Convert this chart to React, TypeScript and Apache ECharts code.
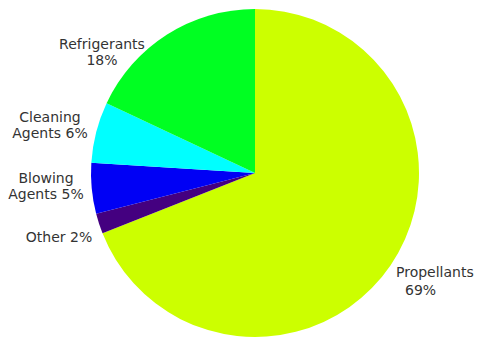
import React, { useEffect, useRef } from "react";
import * as echarts from "echarts";

const categories = ["Propellants", "Other", "Blowing\nAgents", "Cleaning\nAgents", "Refrigerants\n"];
const names = ["Propellants", "Other", "Blowing Agents", "Cleaning Agents", "Refrigerants"];
const values = [69, 2, 5, 6, 18];
const colors = ["#CCFF00", "#440080", "#0000F5", "#00FFFF", "#00FF22"];
const labelPos: { x: number; y: number; align: string }[] = [
  { x: 396, y: 281, align: "left" },
  { x: 59, y: 237, align: "center" },
  { x: 46, y: 186, align: "center" },
  { x: 50, y: 125, align: "center" },
  { x: 102, y: 52, align: "center" },
];

export default function App() {
  const ref = useRef<HTMLDivElement>(null);
  useEffect(() => {
    document.body.style.margin = "0";
    const chart = echarts.init(ref.current!, null, { renderer: "svg" });
    chart.setOption({
      animation: false,
      backgroundColor: "#ffffff",
      series: [
        {
          type: "pie",
          center: [255, 173],
          radius: 164,
          startAngle: 90,
          clockwise: true,
          avoidLabelOverlap: false,
          data: names.map((n, i) => ({
            name: n,
            value: values[i],
            itemStyle: { color: colors[i] },
            label:
              i === 0
                ? {
                    formatter: "{a|Propellants}\n{b|69%}",
                    rich: {
                      a: { fontFamily: "DejaVu Sans", fontSize: 14, color: "#333", lineHeight: 18 },
                      b: { fontFamily: "DejaVu Sans", fontSize: 14, color: "#333", lineHeight: 18, padding: [0, 0, 0, 9] },
                    },
                  }
                : undefined,
          })),
          label: {
            show: true,
            position: "outside",
            fontFamily: "DejaVu Sans",
            fontSize: 14,
            color: "#333",
            lineHeight: 16,
            formatter: (p: any) => {
              const c = categories[p.dataIndex];
              if (p.dataIndex === 4) return "Refrigerants\n" + p.value + "%";
              if (p.dataIndex === 1) return "Other " + p.value + "%";
              const parts = c.split("\n");
              return parts[0] + "\n" + parts[1] + " " + p.value + "%";
            },
          },
          labelLine: { show: false },
          labelLayout: (p: any) => {
            const lp = labelPos[p.dataIndex];
            return { x: lp.x, y: lp.y, align: lp.align, verticalAlign: "middle" };
          },
          emphasis: { disabled: true },
        },
      ],
    });
    return () => chart.dispose();
  }, []);
  return <div ref={ref} style={{ width: 477, height: 341 }} />;
}
